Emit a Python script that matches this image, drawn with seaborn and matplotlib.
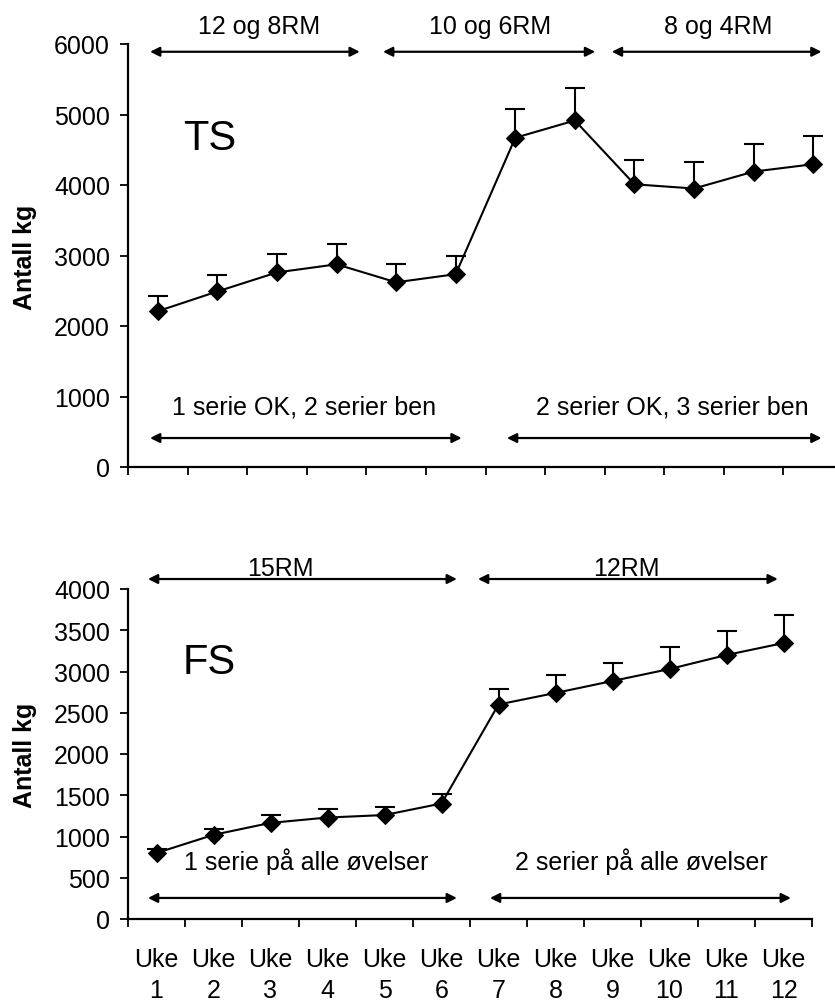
import numpy as np
import pandas as pd
import matplotlib
matplotlib.use("Agg")
import matplotlib.pyplot as plt
import seaborn as sns

weeks = ["Uke\n1", "Uke\n2", "Uke\n3", "Uke\n4", "Uke\n5", "Uke\n6",
         "Uke\n7", "Uke\n8", "Uke\n9", "Uke\n10", "Uke\n11", "Uke\n12"]
ts_mean = [2210, 2490, 2760, 2875, 2620, 2735, 4670, 4915, 4010, 3950, 4190, 4295]
ts_err = [210, 240, 260, 285, 255, 255, 415, 455, 340, 370, 385, 395]
fs_mean = [800, 1020, 1165, 1230, 1260, 1400, 2600, 2740, 2885, 3030, 3200, 3345]
fs_err = [45, 65, 95, 105, 95, 120, 185, 220, 215, 265, 290, 335]

ts_top_labels = ["12 og 8RM", "10 og 6RM", "8 og 4RM"]
ts_bottom_labels = ["1 serie OK, 2 serier ben", "2 serier OK, 3 serier ben"]
fs_top_labels = ["15RM", "12RM"]
fs_bottom_labels = ["1 serie på alle øvelser", "2 serier på alle øvelser"]

sns.set_style("ticks")
plt.rcParams["font.family"] = ["Liberation Sans", "DejaVu Sans"]
plt.rcParams["text.color"] = "black"
plt.rcParams["axes.labelcolor"] = "black"
plt.rcParams["xtick.color"] = "black"
plt.rcParams["ytick.color"] = "black"
FS = 18

fig = plt.figure(figsize=(8.35, 10.03), dpi=100)
W, H = 835.0, 1003.0
ax1 = fig.add_axes([128 / W, 1 - 468 / H, (843 - 128) / W, (468 - 45) / H])
ax2 = fig.add_axes([128 / W, 1 - 920 / H, (812 - 128) / W, (920 - 590) / H])

x = np.arange(len(weeks))


def draw(ax, mean, err, ymax, ystep, capw):
    df = pd.DataFrame({"x": x, "y": mean})
    top = np.array(mean) + np.array(err)
    ax.vlines(x, mean, top, color="black", lw=1.5, zorder=2)
    ax.plot(x, top, ls="none", marker="_", markersize=capw, mew=1.5, color="black", zorder=2)
    sns.lineplot(data=df, x="x", y="y", ax=ax, color="black", lw=1.5, marker="D",
                 markersize=9, markeredgecolor="black", markerfacecolor="black", zorder=3)
    ax.set_xlim(-0.5, len(weeks) - 0.5)
    ax.set_ylim(0, ymax)
    ax.set_yticks(np.arange(0, ymax + 1, ystep))
    ax.set_xticks(np.arange(-0.5, len(weeks) + 0.5, 1.0))
    ax.set_xticklabels([])
    ax.set_xlabel("")
    ax.set_ylabel("")
    for s in ["top", "right"]:
        ax.spines[s].set_visible(False)
    for s in ["left", "bottom"]:
        ax.spines[s].set_linewidth(1.6)
        ax.spines[s].set_color("black")
    ax.tick_params(axis="both", which="major", direction="out", length=6, width=1.3,
                   color="black", labelsize=FS, pad=7, labelcolor="black")
    ax.set_facecolor("white")


def arrow(ax, x0, x1, y):
    ax.annotate("", xy=(x1, y), xytext=(x0, y), annotation_clip=False,
                arrowprops=dict(arrowstyle="<|-|>", lw=1.6, color="black",
                                mutation_scale=14, shrinkA=0, shrinkB=0))


draw(ax1, ts_mean, ts_err, 6000, 1000, 15)
draw(ax2, fs_mean, fs_err, 4000, 500, 15)

# bottom axis week labels
ax2.set_xticks(x, minor=True)
ax2.set_xticklabels(weeks, minor=True, fontsize=FS, linespacing=1.4)
ax2.tick_params(axis="x", which="minor", length=0, pad=20)

# TS annotations
arrow(ax1, -0.13, 3.39, 5890)
arrow(ax1, 3.78, 7.34, 5890)
arrow(ax1, 7.62, 11.14, 5890)
for xc, t in zip([1.70, 5.57, 9.40], ts_top_labels):
    ax1.text(xc, 6255, t, ha="center", va="center", fontsize=FS, clip_on=False)
arrow(ax1, -0.13, 5.10, 411)
arrow(ax1, 5.86, 11.14, 411)
for xc, t in zip([2.45, 8.63], ts_bottom_labels):
    ax1.text(xc, 865, t, ha="center", va="center", fontsize=FS)
ax1.text(0.42, 4667, "TS", ha="left", va="center", fontsize=30)

# FS annotations
arrow(ax2, -0.15, 5.27, 4121)
arrow(ax2, 5.64, 10.90, 4121)
for xc, t in zip([2.17, 8.24], fs_top_labels):
    ax2.text(xc, 4250, t, ha="center", va="center", fontsize=FS, clip_on=False)
arrow(ax2, -0.15, 5.27, 255)
arrow(ax2, 5.85, 11.13, 255)
for xc, t in zip([2.62, 8.50], fs_bottom_labels):
    ax2.text(xc, 703, t, ha="center", va="center", fontsize=FS)
ax2.text(0.46, 3115, "FS", ha="left", va="center", fontsize=30)

fig.text(25 / W, 1 - 257 / H, "Antall kg", rotation=90, ha="center", va="center",
         fontsize=FS, fontweight="bold")
fig.text(25 / W, 1 - 755 / H, "Antall kg", rotation=90, ha="center", va="center",
         fontsize=FS, fontweight="bold")

fig.savefig("out.png", dpi=100, facecolor="white")
